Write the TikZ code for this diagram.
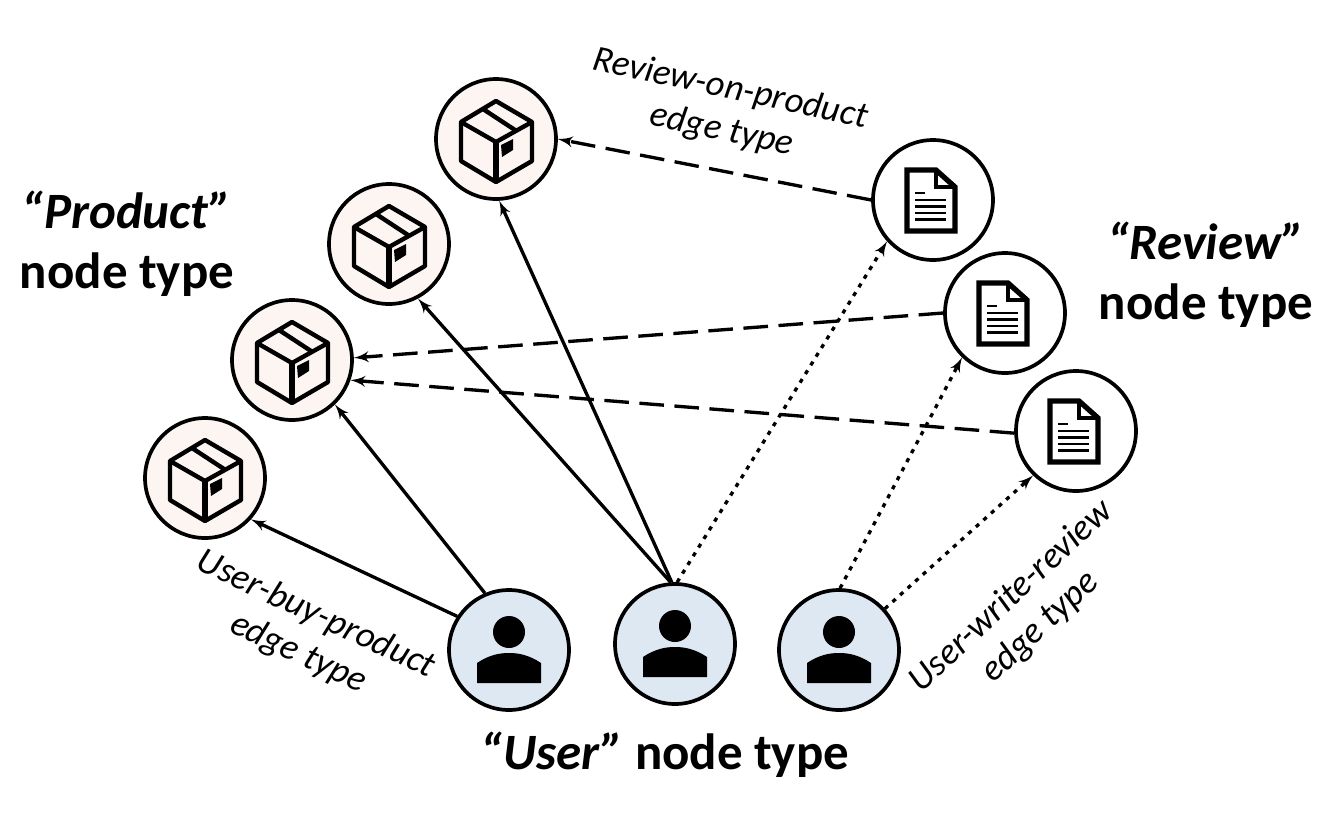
\documentclass[tikz,border=0pt]{standalone}
\usepackage{fontspec}
\setmainfont{Carlito}
\usetikzlibrary{shapes,arrows}
\definecolor{productfill}{HTML}{FDF5F1}
\definecolor{userfill}{HTML}{DEE8F3}
\tikzstyle{circ} = [circle, draw, line width=2.1pt, minimum size=2.4cm, inner sep=0pt]
\tikzstyle{product} = [circ, fill=productfill]
\tikzstyle{review} = [circ, fill=white]
\tikzstyle{user} = [circ, fill=userfill]
\tikzstyle{buys} = [draw, line width=1.9pt, -latex']
\tikzstyle{writes} = [draw, line width=1.9pt, dash pattern=on 2.4pt off 3.4pt, -latex']
\tikzstyle{about} = [draw, line width=1.9pt, dash pattern=on 14pt off 6pt, -latex']
\tikzstyle{edgelabel} = [font=\fontsize{20.8}{24}\selectfont\itshape, align=center]
\tikzstyle{typelabel} = [font=\fontsize{29}{34}\selectfont\bfseries, align=center]
\tikzset{
  boxicon/.pic={
    \draw [line width=2.5pt, line join=round] (0,-38) -- (-35,-17) -- (-35,22) -- (0,43) -- (36,22) -- (36,-17) -- cycle;
    \draw [line width=2.5pt, line join=round] (-35,-17) -- (0,3) -- (36,-17);
    \draw [line width=3pt] (0,3) -- (0,43);
    \draw [line width=2.5pt] (-13,-30) -- (19,-9);
    \fill (5,6) -- (17,0) -- (17,11) -- (6,18) -- cycle;
  },
  docicon/.pic={
    \draw [line width=3pt, miter limit=4] (-26,-30) -- (3,-30) -- (22,-13) -- (22,31) -- (-26,31) -- cycle;
    \draw [line width=2.2pt] (3,-30) -- (3,-13) -- (22,-13);
    \draw [line width=1.5pt] (-18,-7) -- (-8,-7);
    \foreach \y in {0,6.5,13,19.5}
      \draw [line width=1.6pt] (-18,\y) -- (13,\y);
  },
  usericon/.pic={
    \fill (0,-18) circle [radius=16];
    \fill (-32,33) -- (-32,13) .. controls (-20,5) and (-10,3) .. (0,3)
      .. controls (10,3) and (20,5) .. (32,13) -- (32,33) -- cycle;
  }
}
\begin{document}
\begin{tikzpicture}[x=0.02cm, y=-0.02cm]
    \useasboundingbox (0,0) rectangle (1340,826);
    % Place nodes
    \node [product] (prodA) at (205,478) {};
    \node [product] (prodB) at (292,360) {};
    \node [product] (prodC) at (389,244) {};
    \node [product] (prodD) at (496,139) {};
    \node [review] (revA) at (933,200) {};
    \node [review] (revB) at (1005,313) {};
    \node [review] (revC) at (1076,431) {};
    \node [user] (userA) at (509,650) {};
    \node [user] (userB) at (675,644) {};
    \node [user] (userC) at (839,650) {};
    % Place icons
    \foreach \n in {prodA,prodB,prodC,prodD}
      \pic at (\n) {boxicon};
    \foreach \n in {revA,revB,revC}
      \pic at (\n) {docicon};
    \foreach \n in {userA,userB,userC}
      \pic at (\n) {usericon};
    % Draw edges
    \path [buys] (userA.147) -- (prodA.-42);
    \path [buys] (userA.113) -- (prodB.-46);
    \path [buys] (userB.94) -- (prodC.-62);
    \path [buys] (userB.93) -- (prodD.-87);
    \path [writes] (userB.88) -- (revA.-138);
    \path [writes] (userC.89) -- (revB.-134);
    \path [writes] (userC.42) -- (revC.-134);
    \path [about] (revA.180) -- (prodD.0);
    \path [about] (revB.180) -- (prodB.2);
    \path [about] (revC.182) -- (prodB.-19);
    % Place labels
    \node [edgelabel, rotate=-12] (labelon) at (726,110) {Review-on-product\\edge type};
    \node [edgelabel, rotate=-25] (labelbuy) at (307,634) {User-buy-product\\edge type};
    \node [edgelabel, rotate=43] (labelwrite) at (1026,612) {User-write-review\\edge type};
    \node [typelabel] (typeprod) at (127,244) {\textit{“Product”}\\node type};
    \node [typelabel] (typerev) at (1206,275) {\textit{“Review”}\\node type};
    \node [typelabel] (typeuser) at (665,755) {\textit{“User”} node type};
\end{tikzpicture}
\end{document}
